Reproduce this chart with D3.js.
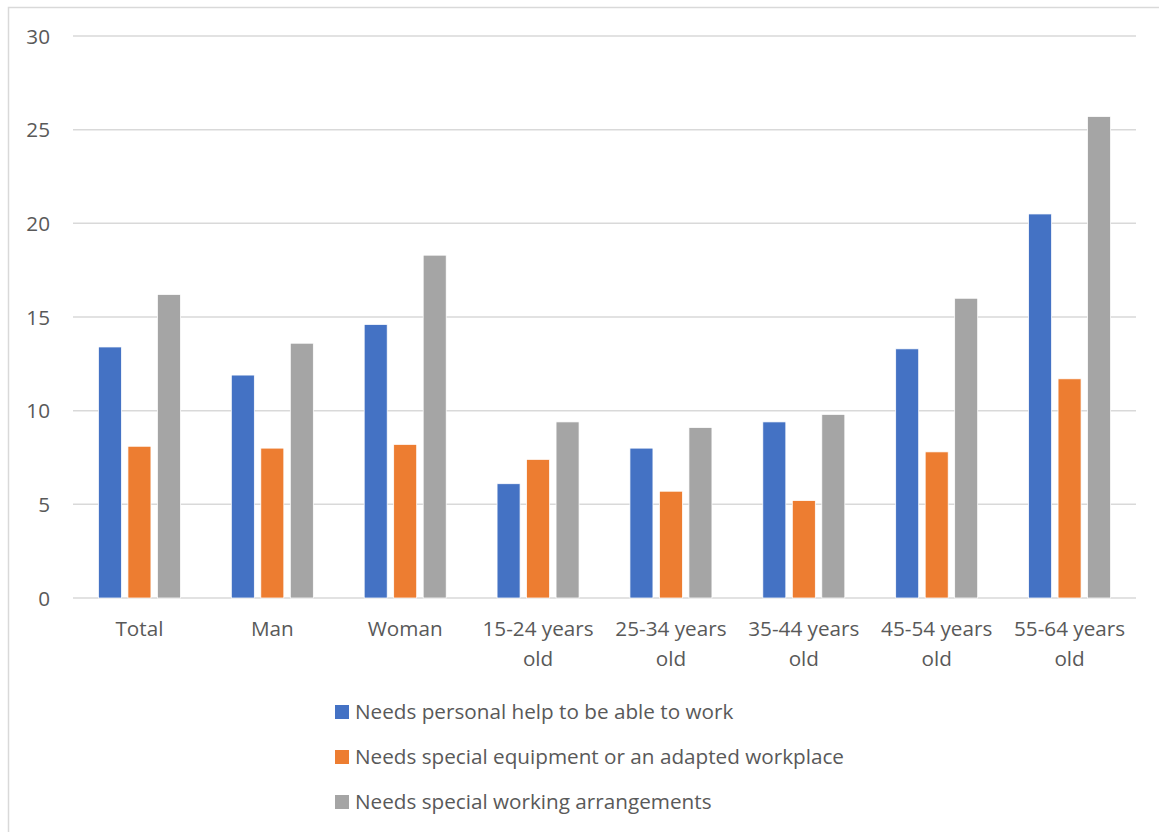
<!DOCTYPE html>
<html>
<head>
<meta charset="utf-8">
<script src="https://cdn.jsdelivr.net/npm/d3@7"></script>
<style>
  html, body { margin: 0; padding: 0; background: #fff; }
  svg { display: block; }
  text { font-family: "Open Sans", sans-serif; fill: #595959; }
</style>
</head>
<body>
<svg id="chart" width="1159" height="832"></svg>
<script>
// Categories along the x axis (two-line labels split on "\n")
const categories = ["Total", "Man", "Woman", "15-24 years\nold", "25-34 years\nold", "35-44 years\nold", "45-54 years\nold", "55-64 years\nold"];

// Series names and colours
const seriesNames = [
  "Needs personal help to be able to work",
  "Needs special equipment or an adapted workplace",
  "Needs special working arrangements"
];
const seriesColors = ["#4472C4", "#ED7D31", "#A5A5A5"];

// Values (%) per category, one array per series
const personalHelp   = [13.4, 11.9, 14.6, 6.1, 8.0, 9.4, 13.3, 20.5];
const equipment      = [8.1, 8.0, 8.2, 7.4, 5.7, 5.2, 7.8, 11.7];
const arrangements   = [16.2, 13.6, 18.3, 9.4, 9.1, 9.8, 16.0, 25.7];
const seriesValues = [personalHelp, equipment, arrangements];

// Y axis ticks
const yTicks = [0, 5, 10, 15, 20, 25, 30];

const fontSize = 20.7;
const svg = d3.select("#chart");

// Chart frame
svg.append("rect")
  .attr("x", 8.5).attr("y", 7.5)
  .attr("width", 1170).attr("height", 850)
  .attr("fill", "none")
  .attr("stroke", "#d9d9d9")
  .attr("stroke-width", 1.5);

const plot = { left: 73, right: 1136, top: 36, bottom: 598 };

const x0 = d3.scaleBand()
  .domain(categories)
  .range([plot.left, plot.right])
  .paddingInner(0)
  .paddingOuter(0);

const groupWidth = 82;
const x1 = d3.scaleBand()
  .domain(d3.range(seriesNames.length))
  .range([0, groupWidth])
  .paddingInner(0.22)
  .paddingOuter(0);

const y = d3.scaleLinear()
  .domain([0, 30])
  .range([plot.bottom, plot.top]);

// Gridlines
svg.append("g")
  .selectAll("line")
  .data(yTicks)
  .join("line")
  .attr("x1", plot.left).attr("x2", plot.right)
  .attr("y1", d => y(d)).attr("y2", d => y(d))
  .attr("stroke", "#d9d9d9")
  .attr("stroke-width", 1.5);

// Y axis labels
const yAxis = d3.axisLeft(y).tickValues(yTicks).tickSize(0).tickPadding(0);
const yg = svg.append("g")
  .attr("transform", `translate(50,0)`)
  .call(yAxis);
yg.select(".domain").remove();
yg.selectAll("text")
  .attr("font-family", "Open Sans, sans-serif")
  .attr("font-size", fontSize)
  .attr("fill", "#595959")
  .attr("dy", "0.35em");

// Bars
const groups = svg.append("g")
  .selectAll("g")
  .data(categories)
  .join("g")
  .attr("transform", d => `translate(${x0(d) + (x0.bandwidth() - groupWidth) / 2},0)`);

groups.selectAll("rect")
  .data((d, i) => seriesValues.map((vals, s) => ({ s, v: vals[i] })))
  .join("rect")
  .attr("x", d => x1(d.s))
  .attr("width", x1.bandwidth())
  .attr("y", d => y(d.v))
  .attr("height", d => y(0) - y(d.v))
  .attr("fill", d => seriesColors[d.s])
  .attr("stroke", "#ffffff")
  .attr("stroke-width", 0.75);

// Category labels
const xg = svg.append("g");
categories.forEach(c => {
  const lines = c.split("\n");
  const cx = x0(c) + x0.bandwidth() / 2;
  const t = xg.append("text")
    .attr("x", cx)
    .attr("y", 636)
    .attr("text-anchor", "middle")
    .attr("font-size", fontSize);
  lines.forEach((ln, k) => {
    t.append("tspan")
      .attr("x", cx)
      .attr("dy", k === 0 ? 0 : 30)
      .text(ln);
  });
});

// Legend
const legend = svg.append("g").attr("transform", "translate(335,0)");
const legendY = [712, 757, 802];
seriesNames.forEach((name, i) => {
  legend.append("rect")
    .attr("x", 0).attr("y", legendY[i] - 7)
    .attr("width", 14).attr("height", 14)
    .attr("fill", seriesColors[i]);
  legend.append("text")
    .attr("x", 20).attr("y", legendY[i])
    .attr("dy", "0.35em")
    .attr("font-size", fontSize)
    .text(name);
});
</script>
</body>
</html>
